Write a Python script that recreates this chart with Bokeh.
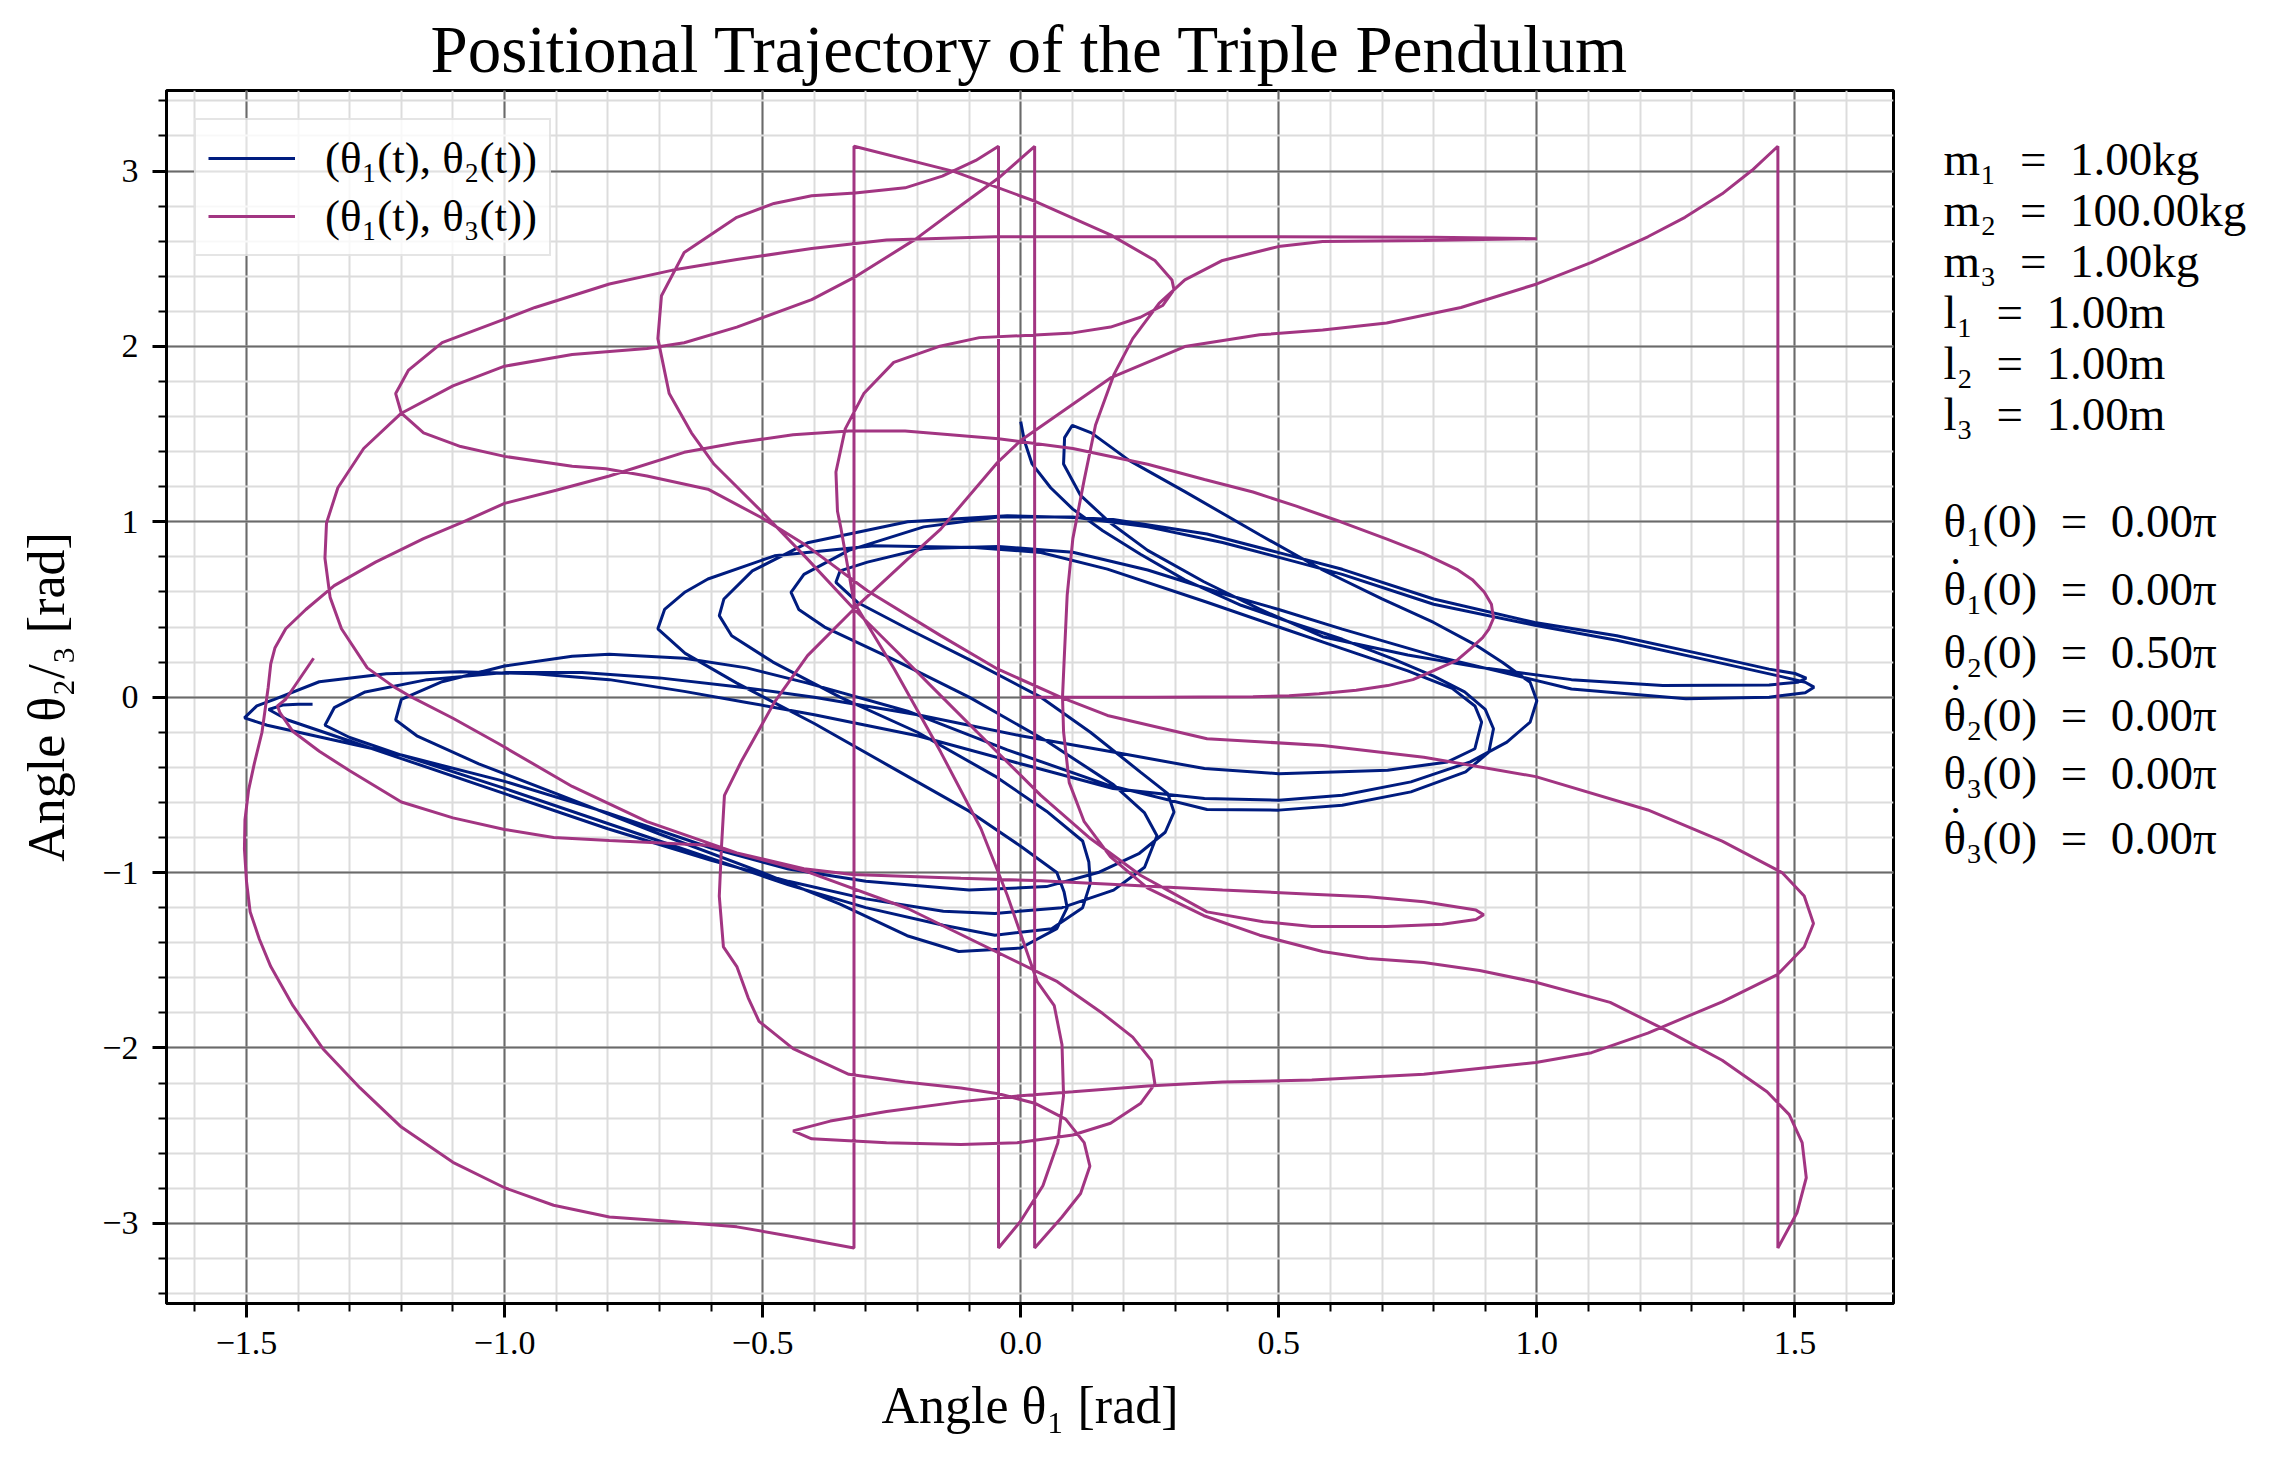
from bokeh.core.properties import value
from bokeh.embed import file_html
from bokeh.layouts import row
from bokeh.models import FixedTicker, Legend, LegendItem, Range1d
from bokeh.plotting import figure
from bokeh.resources import INLINE

BLUE = "#001c7f"
MAGENTA = "#a23582"
SERIF = "Liberation Serif"

# (theta1, theta2) trajectory (joined end to end)
B1_X = [0.0, 0.007, 0.022, 0.058, 0.101, 0.159, 0.232, 0.318, 0.427, 0.52, 0.623, 0.72, 0.8, 0.86, 0.9, 0.916]
B1_Y = [1.571, 1.463, 1.33, 1.194, 1.072, 0.949, 0.815, 0.669, 0.524, 0.43, 0.33, 0.22, 0.12, 0.03, -0.07, -0.18]
B2_X = [0.907, 0.862, 0.756, 0.623, 0.5, 0.361, 0.168, -0.026, -0.219, -0.413, -0.531, -0.652, -0.797,
        -0.869, -1.0, -1.121, -1.2, -1.211]
B2_Y = [-0.313, -0.426, -0.54, -0.616, -0.644, -0.64, -0.5, -0.3, -0.08, 0.08, 0.167, 0.222, 0.245,
        0.233, 0.178, 0.088, -0.012, -0.13]
B3_X = [-1.17, -1.05, -0.9, -0.7, -0.5, -0.35, -0.22, -0.12, 0.0, 0.07, 0.09, 0.084, 0.07, 0.0, -0.1,
        -0.25, -0.4, -0.55, -0.65, -0.703]
B3_Y = [-0.22, -0.38, -0.55, -0.78, -1.0, -1.18, -1.36, -1.45, -1.43, -1.32, -1.2, -1.11, -1.0, -0.85,
        -0.65, -0.4, -0.15, 0.08, 0.25, 0.39]
B4_X = [-0.69, -0.65, -0.606, -0.477, -0.284, -0.09, 0.039, 0.168, 0.361, 0.5, 0.62, 0.75, 0.836, 0.88,
        0.893, 0.88, 0.827, 0.711, 0.5, 0.356, 0.179, 0.0, -0.2, -0.4, -0.55, -0.7, -0.85, -1.0, -1.15,
        -1.27, -1.33, -1.348]
B4_Y = [0.5, 0.6, 0.674, 0.806, 0.863, 0.854, 0.825, 0.73, 0.541, 0.4, 0.28, 0.15, 0.05, -0.05,
        -0.142, -0.294, -0.369, -0.417, -0.436, -0.407, -0.313, -0.22, -0.1, 0.0, 0.06, 0.11, 0.14, 0.14,
        0.1, 0.03, -0.06, -0.16]
B5_X = [-1.3, -1.2, -1.0, -0.8, -0.6, -0.45, -0.3, -0.15, -0.05, 0.06, 0.12, 0.135, 0.132, 0.12, 0.05,
        -0.05, -0.2, -0.35, -0.48, -0.56, -0.584]
B5_Y = [-0.23, -0.33, -0.52, -0.72, -0.92, -1.07, -1.2, -1.3, -1.357, -1.32, -1.2, -1.06, -0.94, -0.82,
        -0.65, -0.45, -0.2, 0.0, 0.2, 0.35, 0.465]
B6_X = [-0.575, -0.52, -0.413, -0.219, -0.026, 0.103, 0.179, 0.361, 0.5, 0.623, 0.8, 0.996, 1.155,
        1.333, 1.45, 1.5, 1.522, 1.505, 1.45, 1.244, 1.067, 0.889, 0.75, 0.585, 0.463, 0.355, 0.246,
        0.174, 0.116, 0.083, 0.085, 0.1, 0.137, 0.21, 0.318, 0.463, 0.585, 0.7, 0.8, 0.88, 0.933, 0.987,
        1.0, 0.987, 0.942, 0.871, 0.756, 0.623, 0.5, 0.356, 0.179, 0.0, -0.2, -0.4, -0.531, -0.652,
        -0.797, -0.941, -1.085, -1.229, -1.359, -1.446, -1.48, -1.504]
B6_Y = [0.56, 0.72, 0.88, 1.0, 1.034, 1.025, 1.013, 0.93, 0.824, 0.729, 0.56, 0.426, 0.35, 0.237,
        0.16, 0.135, 0.108, 0.085, 0.07, 0.066, 0.1, 0.17, 0.24, 0.345, 0.502, 0.658, 0.837, 0.993,
        1.15, 1.329, 1.48, 1.55, 1.507, 1.35, 1.172, 0.926, 0.725, 0.56, 0.426, 0.3, 0.199, 0.085,
        -0.02, -0.142, -0.256, -0.369, -0.483, -0.559, -0.587, -0.578, -0.521, -0.38, -0.22, -0.1,
        -0.03, 0.033, 0.1, 0.133, 0.145, 0.133, 0.088, -0.012, -0.05, -0.118]
B7_X = [-1.46, -1.338, -1.2, -1.0, -0.8, -0.6, -0.45, -0.3, -0.1, 0.05, 0.15, 0.23, 0.28, 0.297,
        0.285, 0.232, 0.135, 0.039, -0.09, -0.219, -0.316, -0.358, -0.35, -0.297, -0.188, -0.043,
        0.101, 0.246, 0.391, 0.5, 0.623, 0.8, 1.067, 1.289, 1.45, 1.52, 1.537]
B7_Y = [-0.16, -0.24, -0.33, -0.48, -0.66, -0.86, -0.98, -1.05, -1.1, -1.08, -1.0, -0.89, -0.77,
        -0.655, -0.55, -0.427, -0.2, 0.0, 0.2, 0.39, 0.54, 0.655, 0.72, 0.77, 0.848, 0.859, 0.826,
        0.725, 0.591, 0.5, 0.388, 0.237, 0.047, -0.009, 0.0, 0.025, 0.057]
B8_X = [1.52, 1.47, 1.333, 1.155, 0.996, 0.8, 0.623, 0.535, 0.391, 0.246, 0.101, -0.043, -0.188,
        -0.333, -0.42, -0.445, -0.43, -0.38, -0.25, -0.1, 0.05, 0.18, 0.24, 0.264, 0.24, 0.18, 0.08,
        -0.05, -0.15, -0.3, -0.45, -0.6, -0.8, -1.0, -1.2, -1.3, -1.42, -1.457, -1.43, -1.4, -1.372]
B8_Y = [0.085, 0.12, 0.21, 0.325, 0.41, 0.53, 0.70, 0.77, 0.882, 0.971, 1.027, 1.027, 0.971, 0.837,
        0.7, 0.598, 0.5, 0.4, 0.22, 0.0, -0.25, -0.5, -0.66, -0.79, -0.97, -1.1, -1.2, -1.233, -1.22,
        -1.15, -1.05, -0.93, -0.75, -0.55, -0.35, -0.25, -0.13, -0.07, -0.045, -0.04, -0.04]

# (theta1, theta3) trajectory, theta3 wrapped to [-pi, pi]
M1_X = [0.0, 0.25, 0.45, 0.52, 0.578, 0.65, 0.711, 0.76, 0.8, 0.845, 0.871, 0.895, 0.907, 0.916, 0.912,
        0.898, 0.875, 0.845, 0.78, 0.711, 0.62, 0.534, 0.45, 0.356, 0.246, 0.101, -0.043, -0.224,
        -0.333, -0.441, -0.55, -0.652, -0.797, -0.9, -1.0, -1.08, -1.157, -1.25, -1.33, -1.385, -1.424,
        -1.445, -1.453, -1.458, -1.47, -1.485, -1.496, -1.503, -1.504, -1.5, -1.493, -1.475, -1.453,
        -1.41, -1.352, -1.28, -1.2, -1.1, -1.0, -0.905, -0.797, -0.688, -0.55, -0.441, -0.323]
M1_Y = [0.0, 0.0, 0.002, 0.008, 0.019, 0.04, 0.066, 0.1, 0.152, 0.21, 0.275, 0.34, 0.388, 0.45, 0.53,
        0.6, 0.67, 0.729, 0.82, 0.9, 1.0, 1.089, 1.17, 1.241, 1.328, 1.418, 1.474, 1.518, 1.518, 1.496,
        1.451, 1.396, 1.261, 1.18, 1.105, 1.0, 0.904, 0.77, 0.636, 0.5, 0.39, 0.28, 0.19, 0.055, -0.2,
        -0.38, -0.53, -0.7, -0.866, -1.05, -1.223, -1.38, -1.536, -1.759, -2.004, -2.228, -2.451,
        -2.652, -2.797, -2.897, -2.964, -2.987, -3.02, -3.076, -3.141]
M2_X = [-0.323, -0.13, 0.029, 0.174, 0.26, 0.293, 0.297, 0.275, 0.232, 0.174, 0.101, 0.0, -0.08,
        -0.159, -0.246, -0.304, -0.34, -0.358, -0.355, -0.348, -0.323, -0.245, -0.155, -0.077, -0.026,
        0.032, 0.065, 0.08, 0.083, 0.072, 0.043, 0.0, -0.043]
M2_Y = [3.141, 2.998, 2.826, 2.636, 2.49, 2.379, 2.323, 2.233, 2.166, 2.11, 2.077, 2.061, 2.05, 1.999,
        1.909, 1.731, 1.53, 1.284, 1.06, 0.958, 0.541, 0.161, -0.313, -0.75, -1.129, -1.622, -1.759,
        -1.982, -2.272, -2.54, -2.786, -2.987, -3.141]
M3_X = [-0.043, -0.087, -0.152, -0.224, -0.321, -0.405, -0.478, -0.55, -0.652, -0.696, -0.703, -0.681,
        -0.638, -0.594, -0.5, -0.413, -0.323, -0.245, -0.155, -0.052, 0.039, 0.135, 0.232, 0.361, 0.47,
        0.564, 0.709, 0.817, 0.882, 0.897, 0.882, 0.781, 0.673, 0.564, 0.391, 0.174, 0.029, -0.116,
        -0.326, -0.42, -0.55, -0.724, -0.869, -1.013, -1.1, -1.18, -1.215, -1.266, -1.316, -1.338,
        -1.348, -1.345, -1.323, -1.273, -1.2, -1.1, -1.0, -0.869, -0.724, -0.652, -0.55, -0.405,
        -0.318, -0.203, -0.116, -0.043, 0.027]
M3_Y = [3.141, 3.06, 2.971, 2.904, 2.875, 2.859, 2.815, 2.736, 2.535, 2.289, 2.044, 1.731, 1.507, 1.328,
        1.053, 0.787, 0.503, 0.275, 0.009, -0.294, -0.56, -0.806, -1.015, -1.224, -1.28, -1.308,
        -1.308, -1.295, -1.268, -1.241, -1.214, -1.167, -1.138, -1.123, -1.1, -1.067, -1.045, -1.033,
        -1.011, -0.978, -0.888, -0.71, -0.509, -0.263, -0.12, 0.0, 0.06, 0.167, 0.39, 0.569, 0.792,
        0.993, 1.194, 1.418, 1.619, 1.775, 1.887, 1.954, 1.988, 2.021, 2.11, 2.267, 2.401, 2.613,
        2.803, 2.96, 3.141]
M4_X = [0.027, 0.08, 0.116, 0.134, 0.123, 0.087, 0.029, -0.043, -0.116, -0.224, -0.333, -0.441, -0.507,
        -0.528, -0.55, -0.576, -0.584, -0.58, -0.574, -0.542, -0.477, -0.413, -0.323, -0.219, -0.155,
        -0.045, 0.0, 0.174, 0.318, 0.463, 0.585, 0.709, 0.853, 1.0, 1.106, 1.215, 1.287, 1.359, 1.417,
        1.467]
M4_Y = [-3.141, -2.964, -2.83, -2.674, -2.54, -2.406, -2.317, -2.261, -2.228, -2.194, -2.15, -2.004,
        -1.848, -1.714, -1.536, -1.424, -1.134, -0.866, -0.56, -0.37, -0.028, 0.237, 0.503, 0.787,
        0.958, 1.338, 1.463, 1.82, 1.999, 2.066, 2.093, 2.133, 2.222, 2.356, 2.479, 2.625, 2.736, 2.87,
        3.004, 3.141]
M5_X = [1.467, 1.504, 1.522, 1.514, 1.489, 1.446, 1.359, 1.251, 1.142, 0.998, 0.889, 0.781, 0.673,
        0.585, 0.463, 0.355, 0.246, 0.174, 0.123, 0.094, 0.083, 0.081, 0.084, 0.09, 0.101, 0.123, 0.145,
        0.181, 0.217, 0.268, 0.318, 0.391, 0.499, 0.585, 0.781, 1.0, 0.8, 0.5, 0.2, -0.05, -0.116,
        -0.26, -0.405, -0.55, -0.674, -0.797, -0.941, -1.0, -1.121, -1.186, -1.211, -1.2, -1.157,
        -1.085, -1.0, -0.869, -0.804, -0.724, -0.606, -0.5, -0.413, -0.297, -0.155, -0.045, 0.077,
        0.168, 0.361, 0.585, 0.781, 0.998, 1.215, 1.359, 1.475, 1.518, 1.536, 1.518, 1.467, 1.359,
        1.215, 1.106, 0.998, 0.781, 0.564, 0.391, 0.246, 0.101, 0.0, -0.116, -0.26, -0.369, -0.441,
        -0.405, -0.26, -0.116, -0.007, 0.101, 0.174, 0.232, 0.26, 0.253, 0.217, 0.159, 0.071, -0.219,
        -0.413, -0.606, -0.797, -0.905, -1.0, -1.1, -1.2, -1.3, -1.359, -1.41, -1.435, -1.44, -1.424,
        -1.37]
M5_Y = [-3.141, -2.94, -2.74, -2.54, -2.38, -2.25, -2.07, -1.9, -1.74, -1.625, -1.558, -1.513, -1.49,
        -1.45, -1.357, -1.246, -1.089, -0.911, -0.71, -0.487, -0.196, 0.0, 0.2, 0.58, 0.904, 1.239,
        1.552, 1.842, 2.044, 2.245, 2.379, 2.49, 2.569, 2.598, 2.604, 2.614, 2.622, 2.625, 2.625,
        2.625, 2.62, 2.607, 2.558, 2.495, 2.435, 2.356, 2.222, 2.155, 2.021, 1.865, 1.731, 1.619,
        1.507, 1.429, 1.373, 1.317, 1.302, 1.261, 1.186, 1.02, 0.86, 0.607, 0.351, 0.161, 0.0, -0.104,
        -0.237, -0.275, -0.342, -0.453, -0.643, -0.821, -1.0, -1.134, -1.29, -1.424, -1.58, -1.737,
        -1.915, -2.027, -2.083, -2.15, -2.183, -2.194, -2.217, -2.25, -2.272, -2.306, -2.362, -2.417,
        -2.473, -2.518, -2.54, -2.551, -2.54, -2.496, -2.429, -2.317, -2.205, -2.071, -1.938, -1.804,
        -1.622, -1.205, -0.996, -0.844, -0.817, -0.8, -0.754, -0.688, -0.598, -0.42, -0.308, -0.196,
        -0.09, -0.05, -0.012, 0.222]

X_TICKS = [-1.5, -1.0, -0.5, 0.0, 0.5, 1.0, 1.5]
X_TICK_LABELS = ["\u22121.5", "\u22121.0", "\u22120.5", "0.0", "0.5", "1.0", "1.5"]
Y_TICKS = [-3, -2, -1, 0, 1, 2, 3]
Y_TICK_LABELS = ["\u22123", "\u22122", "\u22121", "0", "1", "2", "3"]

EQ = "\u2002=\u2002"
PARAM_LINES = ["m\u2081" + EQ + "1.00kg", "m\u2082" + EQ + "100.00kg", "m\u2083" + EQ + "1.00kg",
               "l\u2081" + EQ + "1.00m", "l\u2082" + EQ + "1.00m", "l\u2083" + EQ + "1.00m",
               "\u03b8\u2081(0)" + EQ + "0.00\u03c0", "\u03b8\u2081(0)" + EQ + "0.00\u03c0",
               "\u03b8\u2082(0)" + EQ + "0.50\u03c0", "\u03b8\u2082(0)" + EQ + "0.00\u03c0",
               "\u03b8\u2083(0)" + EQ + "0.00\u03c0", "\u03b8\u2083(0)" + EQ + "0.00\u03c0"]
# time-derivative lines get a dot over the theta
DOTTED = [False, False, False, False, False, False, False, True, False, True, False, True]
# baselines of the parameter lines, in page pixels from the top
PARAM_BASELINES = [166, 217, 268, 319, 370, 421, 528, 596, 659, 722, 780, 845]

blue_x = B1_X + B2_X + B3_X + B4_X + B5_X + B6_X + B7_X + B8_X
blue_y = B1_Y + B2_Y + B3_Y + B4_Y + B5_Y + B6_Y + B7_Y + B8_Y
mag_x = M1_X + M2_X + M3_X + M4_X + M5_X
mag_y = M1_Y + M2_Y + M3_Y + M4_Y + M5_Y

p = figure(
    frame_width=1727, frame_height=1213,
    min_border_left=166, min_border_right=10, min_border_top=90, min_border_bottom=147,
    x_range=(-1.655, 1.691), y_range=(-3.457, 3.459),
    output_backend="svg", toolbar_location=None,
    title="Positional Trajectory of the Triple Pendulum",
)
p.title.align = "center"
p.title.text_font = SERIF
p.title.text_font_style = "normal"
p.title.text_font_size = "67px"
p.title.text_color = "black"
p.title.standoff = 10

r_blue = p.line(blue_x, blue_y, line_color=BLUE, line_width=3)
r_mag = p.line(mag_x, mag_y, line_color=MAGENTA, line_width=3)

xt = FixedTicker(ticks=X_TICKS, minor_ticks=[round(-1.6 + 0.1 * i, 1) for i in range(33)])
yt = FixedTicker(ticks=Y_TICKS, minor_ticks=[round(-3.4 + 0.2 * i, 1) for i in range(35)])
p.xaxis.ticker = xt
p.yaxis.ticker = yt
p.xaxis.major_label_overrides = dict(zip(X_TICKS, X_TICK_LABELS))
p.yaxis.major_label_overrides = dict(zip(Y_TICKS, Y_TICK_LABELS))
p.xgrid.ticker = xt
p.ygrid.ticker = yt

p.xaxis.axis_label = "Angle \u03b8\u2081 [rad]"
p.yaxis.axis_label = "Angle \u03b8\u2082/\u2083 [rad]"
for ax in (p.xaxis, p.yaxis):
    ax.axis_label_text_font = SERIF
    ax.axis_label_text_font_style = "normal"
    ax.axis_label_text_font_size = "52px"
    ax.axis_label_text_color = "black"
    ax.major_label_text_font = SERIF
    ax.major_label_text_font_size = "34px"
    ax.major_label_text_color = "black"
    ax.axis_line_width = 3
    ax.major_tick_line_width = 3
    ax.minor_tick_line_width = 2
    ax.major_tick_in = 0
    ax.major_tick_out = 14
    ax.minor_tick_in = 0
    ax.minor_tick_out = 8
    ax.major_label_standoff = 14
p.xaxis.axis_label_standoff = 20
p.yaxis.axis_label_standoff = 24

p.grid.grid_line_color = "#6a6a6a"
p.grid.grid_line_width = 2
p.grid.minor_grid_line_color = "#dcdcdc"
p.grid.minor_grid_line_width = 2
p.outline_line_color = "black"
p.outline_line_width = 3

legend = Legend(items=[
    LegendItem(label="(\u03b8\u2081(t), \u03b8\u2082(t))", renderers=[r_blue]),
    LegendItem(label="(\u03b8\u2081(t), \u03b8\u2083(t))", renderers=[r_mag]),
])
legend.location = "top_left"
legend.margin = 28
legend.padding = 12
legend.spacing = 6
legend.glyph_width = 87
legend.glyph_height = 42
legend.label_height = 42
legend.label_standoff = 30
legend.label_text_font = SERIF
legend.label_text_font_size = "45px"
legend.label_text_color = "black"
legend.border_line_color = "#cccccc"
legend.border_line_width = 2
legend.background_fill_alpha = 0.8
p.add_layout(legend)

# parameter block to the right of the axes; this plot's frame lines up with the main frame,
# so its ranges are the page pixels of that frame
fig_w = 166 + 1727 + 10
side = figure(width=2280 - fig_w, height=1450, x_range=Range1d(8 + fig_w, 2288),
              y_range=Range1d(1311, 98), x_axis_type=None, y_axis_type=None,
              output_backend="svg", toolbar_location=None, min_border=0)
side.outline_line_color = None
side.grid.visible = False
side.text(x=[1951] * len(PARAM_LINES), y=PARAM_BASELINES, text=PARAM_LINES,
          text_font=value(SERIF), text_font_size="47px", text_baseline="alphabetic",
          text_color="black")
dot_y = [b for b, d in zip(PARAM_BASELINES, DOTTED) if d]
side.text(x=[1963] * len(dot_y), y=[b - 15 for b in dot_y], text=["\u02d9"] * len(dot_y),
          text_font=value(SERIF), text_font_size="47px", text_baseline="alphabetic",
          text_align="center", text_color="black")

layout = row(p, side)
open("out.html", "w").write(file_html(layout, INLINE))
